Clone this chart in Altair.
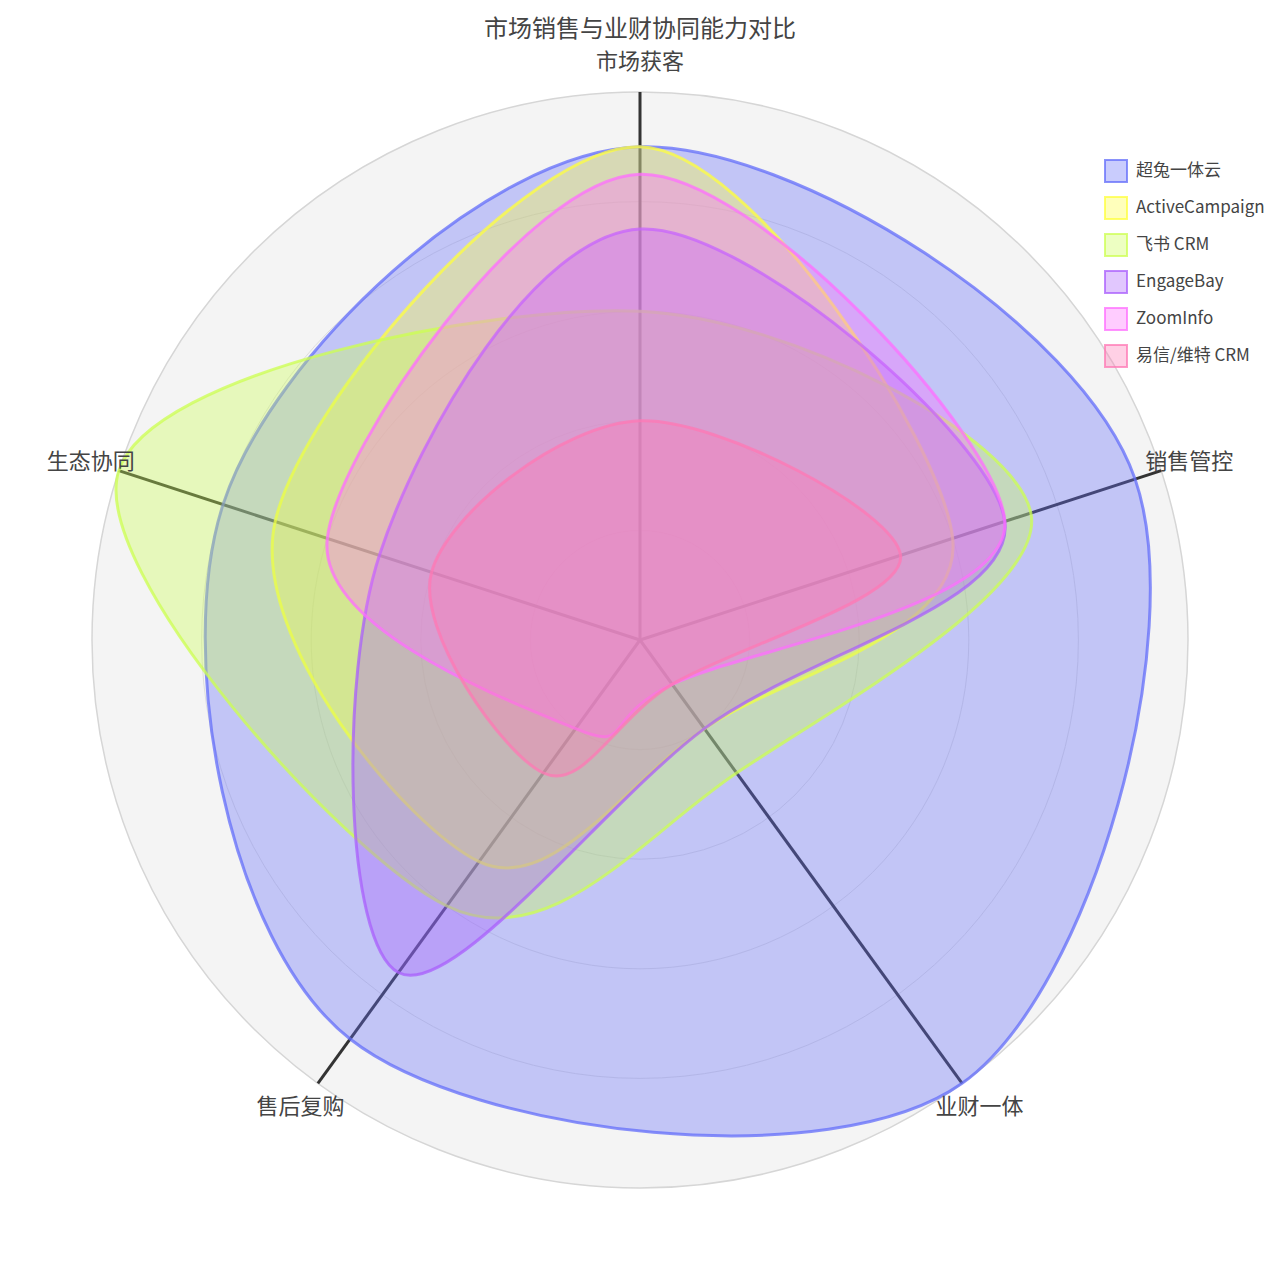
import math
import pandas as pd
import altair as alt

# ---------------- data ----------------
title_text = "市场销售与业财协同能力对比"
categories = ["市场获客", "销售管控", "业财一体", "售后复购", "生态协同"]
series_names = ["超兔一体云", "ActiveCampaign", "飞书 CRM", "EngageBay", "ZoomInfo", "易信/维特 CRM"]
v_chaotu = [9, 9.5, 10, 9, 8]
v_active = [9, 6, 2, 5, 7]
v_feishu = [6, 7.5, 3, 6, 10]
v_engage = [7.5, 7, 2, 7.5, 5]
v_zoominfo = [8.5, 7, 1, 2, 6]
v_yixin = [4, 5, 1, 3, 4]
radial_ticks = [2, 4, 6, 8]
radial_max = 10

# ---------------- style ----------------
base_rgb = [(99, 110, 250), (255, 255, 60), (204, 255, 80), (170, 95, 252), (255, 110, 255), (255, 120, 180)]
fill_colors = [f"rgba({r},{g},{b},0.35)" for r, g, b in base_rgb]
stroke_colors = [f"rgba({r},{g},{b},0.75)" for r, g, b in base_rgb]
FONT = "Noto Sans CJK SC"
W = 1264          # plot width
H = 1248          # plot height (plus 8px top padding keeps the centre at 640)
R_PX = 548        # outer radius in pixels
DX = radial_max * (W / 2) / R_PX
DY = radial_max * (H / 2) / R_PX
LABEL_R = 10.54

rows = []
for name, vals in zip(series_names, [v_chaotu, v_active, v_feishu, v_engage, v_zoominfo, v_yixin]):
    for i, (c, v) in enumerate(zip(categories, vals)):
        rows.append({"series": name, "category": c, "idx": i, "value": v})
df = pd.DataFrame(rows)
cat_df = pd.DataFrame({"category": categories, "idx": list(range(len(categories)))})
tick_df = pd.DataFrame({"r": radial_ticks})
outer_df = pd.DataFrame({"r": [radial_max]})
title_df = pd.DataFrame({"t": [title_text]})

n = len(categories)
angle_expr = f"datum.idx * 2 * PI / {n}"

xs = alt.Scale(domain=[-DX, DX], nice=False, zero=False)
ys = alt.Scale(domain=[-DY, DY], nice=False, zero=False)
rs = alt.Scale(type="linear", domain=[0, radial_max], range=[0, R_PX])

TWO_PI = 2 * math.pi

bg = alt.Chart(outer_df).mark_arc(theta=0, theta2=TWO_PI, color="#f4f4f4").encode(
    radius=alt.Radius("r:Q", scale=rs, stack=False)
)
grid = alt.Chart(tick_df).mark_arc(
    theta=0, theta2=TWO_PI, filled=False, stroke="#dedede", strokeWidth=1
).encode(radius=alt.Radius("r:Q", scale=rs, stack=False))
outer = alt.Chart(outer_df).mark_arc(
    theta=0, theta2=TWO_PI, filled=False, stroke="#d6d6d6", strokeWidth=1.5
).encode(radius=alt.Radius("r:Q", scale=rs, stack=False))

spokes = alt.Chart(cat_df).transform_calculate(
    ang=angle_expr,
    x0="0",
    y0="0",
    x1=f"{radial_max} * sin(datum.ang)",
    y1=f"{radial_max} * cos(datum.ang)",
).mark_rule(color="#333333", strokeWidth=3).encode(
    x=alt.X("x0:Q", scale=xs, axis=None),
    y=alt.Y("y0:Q", scale=ys, axis=None),
    x2="x1:Q",
    y2="y1:Q",
)

leg = alt.Legend(
    title=None,
    orient="none",
    legendX=1096,
    legendY=143,
    symbolType="square",
    symbolSize=484,
    symbolStrokeWidth=2,
    labelFont=FONT,
    labelFontSize=17,
    labelColor="#444444",
    labelOffset=8,
    labelLimit=0,
    rowPadding=7,
    padding=0,
)

series_layers = []
for name in series_names:
    lay = alt.Chart(df).transform_filter(alt.datum.series == name).transform_calculate(
        ang=angle_expr,
        px="datum.value * sin(datum.ang)",
        py="datum.value * cos(datum.ang)",
    ).mark_line(interpolate="cardinal-closed", filled=True, strokeWidth=3).encode(
        x=alt.X("px:Q", scale=xs, axis=None),
        y=alt.Y("py:Q", scale=ys, axis=None),
        order=alt.Order("idx:Q"),
        fill=alt.Fill("series:N", scale=alt.Scale(domain=series_names, range=fill_colors), legend=leg),
        stroke=alt.Stroke("series:N", scale=alt.Scale(domain=series_names, range=stroke_colors), legend=leg),
    )
    series_layers.append(lay)

labels = alt.Chart(cat_df).transform_calculate(
    ang=angle_expr,
    lx=f"{LABEL_R} * sin(datum.ang)",
    ly=f"{LABEL_R} * cos(datum.ang)",
).mark_text(font=FONT, fontSize=22, color="#444444", align="center", baseline="middle").encode(
    x=alt.X("lx:Q", scale=xs, axis=None),
    y=alt.Y("ly:Q", scale=ys, axis=None),
    text="category:N",
)

title = alt.Chart(title_df).mark_text(
    font=FONT, fontSize=24, color="#444444", align="center", baseline="alphabetic"
).encode(text="t:N", x=alt.value(W / 2), y=alt.value(20.5))

chart = alt.layer(bg, grid, outer, spokes, *series_layers, labels, title).properties(
    width=W,
    height=H,
    background="white",
    autosize=alt.AutoSizeParams(type="none"),
    padding={"left": 0, "top": 8, "right": 0, "bottom": 0},
).configure_view(stroke="transparent", strokeWidth=0)

chart.save("out.html", embed_options={"renderer": "svg", "actions": False})
